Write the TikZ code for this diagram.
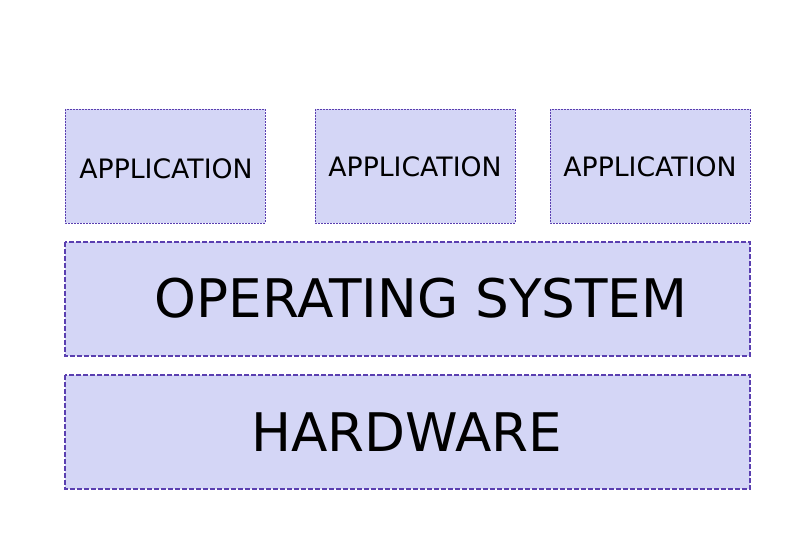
\documentclass[tikz,border=0pt]{standalone}
\usepackage{fontspec}
\setmainfont{DejaVu Sans}
\definecolor{boxfill}{HTML}{D4D6F6}
\definecolor{boxline}{HTML}{5A3FB0}
\begin{document}
\begin{tikzpicture}[x=1pt,y=-1pt,
  appbox/.style={draw=boxline,fill=boxfill,line width=0.8pt,dash pattern=on 2pt off 1pt},
  layerbox/.style={draw=boxline,fill=boxfill,line width=1.3pt,dash pattern=on 5pt off 2pt},
  smalltext/.style={font=\fontsize{26.7}{32}\selectfont},
  bigtext/.style={font=\fontsize{53.2}{62}\selectfont}]
\useasboundingbox (0,0) rectangle (794,559);
\draw[appbox] (65,109) rectangle (265,223);
\draw[appbox] (315,109) rectangle (515,223);
\draw[appbox] (550,109) rectangle (750,223);
\draw[layerbox] (65,242) rectangle (750,356);
\draw[layerbox] (65,375) rectangle (750,489);
\node[smalltext] (a1) at (166,169) {APPLICATION};
\node[smalltext] (a2) at (415,167) {APPLICATION};
\node[smalltext] (a3) at (650,167) {APPLICATION};
\node[bigtext] (os) at (421,298) {OPERATING SYSTEM};
\node[bigtext] (hw) at (407,432) {HARDWARE};
\end{tikzpicture}
\end{document}
